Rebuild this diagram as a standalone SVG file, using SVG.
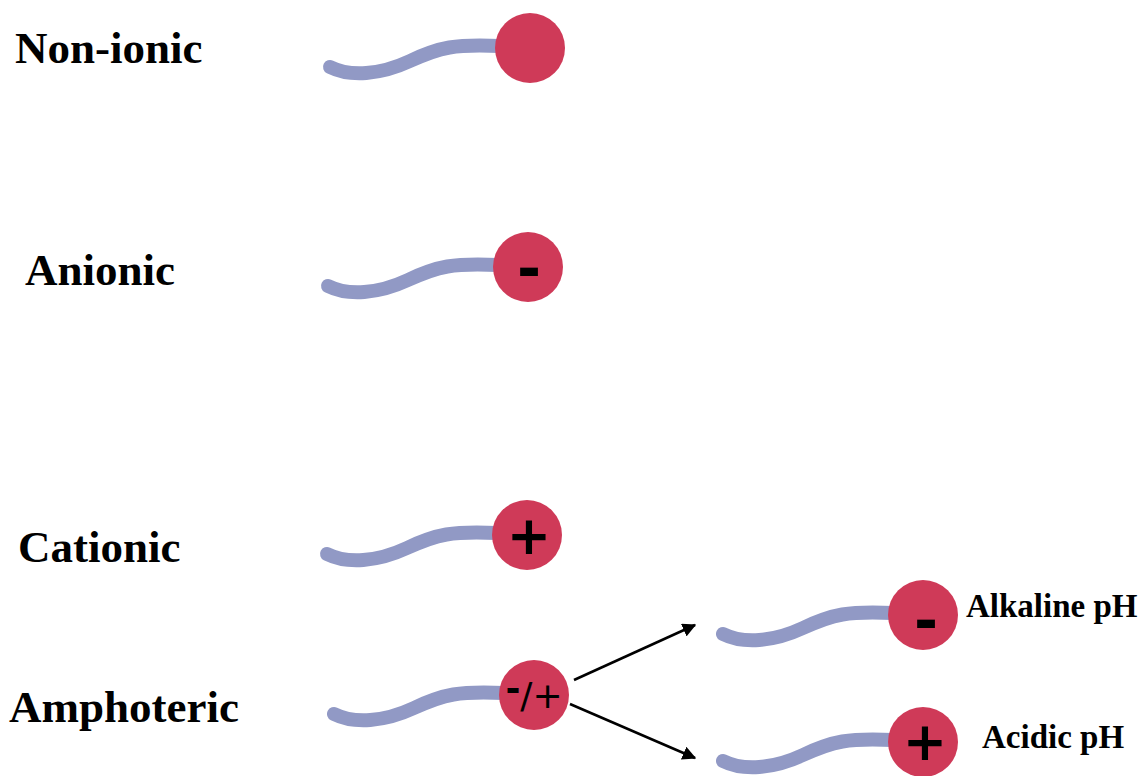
<svg xmlns="http://www.w3.org/2000/svg" width="1148" height="776" viewBox="0 0 1148 776">
  <style>
    .label { font-family: "Liberation Serif", "Times New Roman", serif; font-weight: bold; fill: #000; }
    .big { font-size: 45px; }
    .small { font-size: 33px; }
    .tail { fill: none; stroke: #9199c5; stroke-width: 14; stroke-linecap: round; }
    .head { fill: #cf3a58; }
    .sign { font-family: "DejaVu Sans", sans-serif; fill: #000; text-anchor: middle; }
    .conn { stroke: #000; stroke-width: 2.5; fill: none; marker-end: url(#arrow); }
  </style>
  <defs>
    <!-- hydrophobic tail, drawn relative to the head centre -->
    <path id="tailShape" class="tail" d="M-200,19 C-180,29 -150,27 -120,13 S-75,-4 -30,-2"/>
    <marker id="arrow" viewBox="0 0 10 10" refX="9" refY="5" markerWidth="5.5" markerHeight="5.5" orient="auto" markerUnits="strokeWidth">
      <path d="M0,0 L10,5 L0,10 z" fill="#000"/>
    </marker>
  </defs>
  <rect width="1148" height="776" fill="#fff"/>

  <!-- Non-ionic surfactant -->
  <g id="nonionic">
    <text class="label big" x="15" y="63">Non-ionic</text>
    <g transform="translate(530,48)">
      <use href="#tailShape"/>
      <circle class="head" r="35"/>
    </g>
  </g>

  <!-- Anionic surfactant -->
  <g id="anionic">
    <text class="label big" x="25" y="285">Anionic</text>
    <g transform="translate(528,267)">
      <use href="#tailShape"/>
      <circle class="head" r="35"/>
      <text class="sign" x="1" y="22" font-size="58" font-weight="bold">-</text>
    </g>
  </g>

  <!-- Cationic surfactant -->
  <g id="cationic">
    <text class="label big" x="18" y="562">Cationic</text>
    <g transform="translate(527,535)">
      <use href="#tailShape"/>
      <circle class="head" r="35"/>
      <text class="sign" x="2" y="19" font-size="53" font-weight="bold">+</text>
    </g>
  </g>

  <!-- Amphoteric surfactant -->
  <g id="amphoteric">
    <text class="label big" x="9" y="722">Amphoteric</text>
    <g transform="translate(534,695)">
      <use href="#tailShape"/>
      <circle class="head" r="35"/>
      <text class="sign" x="0" y="13" font-size="36"><tspan dy="-7" font-weight="bold">-</tspan><tspan dy="7">/+</tspan></text>
    </g>
  </g>

  <!-- Amphoteric form at alkaline pH -->
  <g id="alkaline">
    <g transform="translate(923,615)">
      <use href="#tailShape"/>
      <circle class="head" r="35"/>
      <text class="sign" x="3" y="26" font-size="58" font-weight="bold">-</text>
    </g>
    <text class="label small" x="966" y="617">Alkaline pH</text>
  </g>

  <!-- Amphoteric form at acidic pH -->
  <g id="acidic">
    <g transform="translate(923,742)">
      <use href="#tailShape"/>
      <circle class="head" r="35"/>
      <text class="sign" x="2" y="18" font-size="53" font-weight="bold">+</text>
    </g>
    <text class="label small" x="982" y="748">Acidic pH</text>
  </g>

  <!-- connectors -->
  <g id="connectors">
    <line class="conn" x1="574" y1="680" x2="695" y2="625"/>
    <line class="conn" x1="570" y1="704" x2="695" y2="758"/>
  </g>
</svg>
